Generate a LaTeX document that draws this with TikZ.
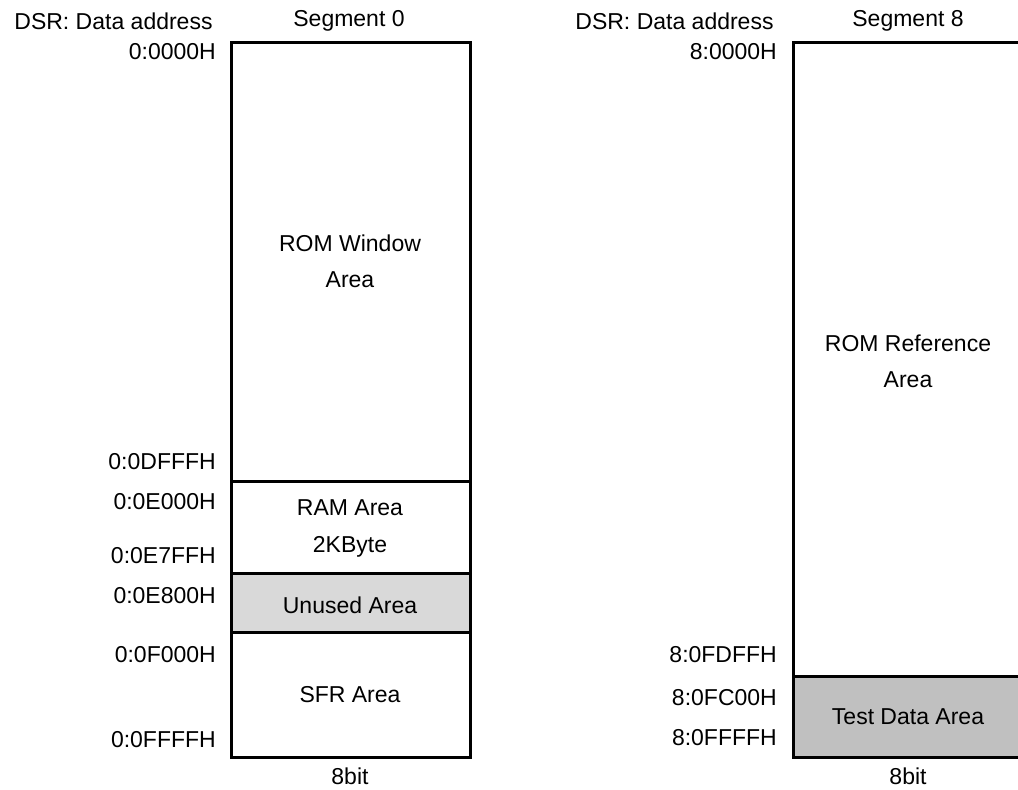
\documentclass[tikz,border=0pt]{standalone}
\usepackage{fontspec}
\setmainfont{Liberation Sans}
\begin{document}
\begin{tikzpicture}[x=1pt,y=-1pt,
  lbl/.style={inner sep=0pt,font=\fontsize{23}{27}\selectfont},
  addr/.style={lbl,anchor=east},
  area/.style={draw=black,line width=3pt},
]
\useasboundingbox (0,0) rectangle (1018,790);
% left segment
\fill[fill={rgb,255:red,217;green,217;blue,217}] (231,573) rectangle (470,632);
\draw[area] (231,42) rectangle (470,757);
\draw[area] (231,481) -- (470,481);
\draw[area] (231,573) -- (470,573);
\draw[area] (231,632) -- (470,632);
% right segment
\fill[fill={rgb,255:red,192;green,192;blue,192}] (793,676) rectangle (1030,757);
\draw[area] (1030,42) -- (793,42) -- (793,757) -- (1030,757);
\draw[area] (793,676) -- (1030,676);

\node[lbl] (dsrL) at (113.5,21) {DSR: Data address};
\node[lbl] (segL) at (349,21) {Segment 0};
\node[addr] (a0) at (216,52) {0:0000H};
\node[addr] (a1) at (216,462) {0:0DFFFH};
\node[addr] (a2) at (216,502) {0:0E000H};
\node[addr] (a3) at (216,556) {0:0E7FFH};
\node[addr] (a4) at (216,596) {0:0E800H};
\node[addr] (a5) at (216,655) {0:0F000H};
\node[addr] (a6) at (216,740) {0:0FFFFH};
\node[lbl] (romw1) at (350,243) {ROM Window};
\node[lbl] (romw2) at (350,280) {Area};
\node[lbl] (ram1) at (350,508) {RAM Area};
\node[lbl] (ram2) at (350,547) {2KByte};
\node[lbl] (unused) at (350,605) {Unused Area};
\node[lbl] (sfr) at (350,695) {SFR Area};
\node[lbl] (bitL) at (350,776) {8bit};

\node[lbl] (dsrR) at (674.5,21) {DSR: Data address};
\node[lbl] (segR) at (908,21) {Segment 8};
\node[addr] (b0) at (777,52) {8:0000H};
\node[addr] (b1) at (777,655) {8:0FDFFH};
\node[addr] (b2) at (777,698) {8:0FC00H};
\node[addr] (b3) at (777,738) {8:0FFFFH};
\node[lbl] (romr1) at (908,343) {ROM Reference};
\node[lbl] (romr2) at (908,380) {Area};
\node[lbl] (test) at (908,717) {Test Data Area};
\node[lbl] (bitR) at (908,776) {8bit};
\end{tikzpicture}
\end{document}
